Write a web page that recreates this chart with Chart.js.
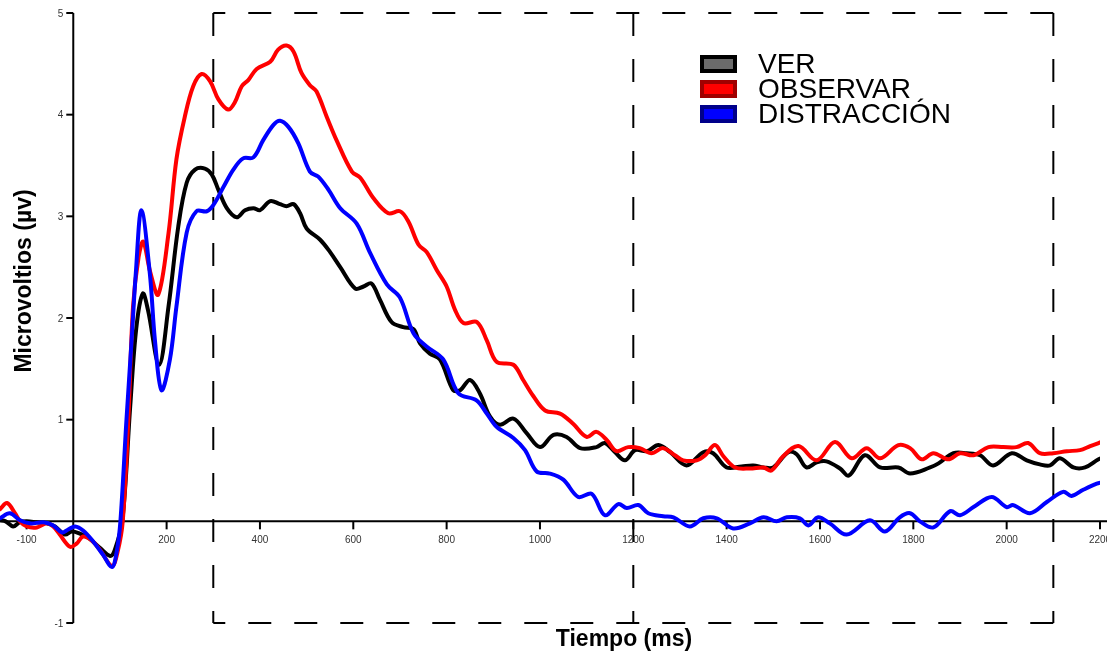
<!DOCTYPE html>
<html lang="es">
<head>
<meta charset="utf-8">
<title>Microvoltios</title>
<script src="https://cdn.jsdelivr.net/npm/chart.js@4/dist/chart.umd.min.js"></script>
<style>
  html, body { margin: 0; padding: 0; background: #fff; }
  #wrap { position: relative; width: 1107px; height: 654px; }
</style>
</head>
<body>
<div id="wrap"><canvas id="myChart"></canvas></div>
<script>
// tiempos (ms) y microvoltios
const tiempoVer = [-157, -145, -129, -115, -100, -78, -57, -39, -18, -3, 14, 32, 57, 79, 89, 105, 122, 135, 149, 160, 184, 204, 225, 243, 261, 282, 297, 311, 329, 350, 368, 386, 400, 422, 443, 457, 472, 486, 500, 529, 550, 572, 604, 622, 639, 657, 682, 707, 729, 743, 764, 786, 814, 829, 850, 871, 893, 914, 943, 971, 1000, 1029, 1057, 1086, 1121, 1139, 1161, 1182, 1204, 1229, 1254, 1279, 1314, 1350, 1371, 1400, 1432, 1457, 1479, 1500, 1532, 1550, 1571, 1593, 1614, 1643, 1662, 1696, 1729, 1768, 1793, 1836, 1854, 1886, 1914, 1943, 1971, 2011, 2043, 2071, 2093, 2114, 2143, 2168, 2197, 2210];
const ver = [0.01, 0.0, -0.05, -0.01, 0.0, -0.01, -0.02, -0.05, -0.13, -0.1, -0.12, -0.16, -0.26, -0.34, -0.28, 0.0, 1.13, 1.9, 2.24, 2.08, 1.54, 2.11, 2.9, 3.33, 3.46, 3.47, 3.41, 3.26, 3.08, 2.99, 3.06, 3.08, 3.06, 3.15, 3.12, 3.1, 3.12, 3.03, 2.88, 2.77, 2.65, 2.5, 2.29, 2.31, 2.34, 2.18, 1.96, 1.91, 1.89, 1.75, 1.65, 1.59, 1.29, 1.29, 1.39, 1.26, 1.03, 0.95, 1.01, 0.87, 0.73, 0.85, 0.83, 0.72, 0.73, 0.77, 0.68, 0.6, 0.7, 0.69, 0.75, 0.68, 0.55, 0.68, 0.67, 0.53, 0.54, 0.55, 0.53, 0.53, 0.68, 0.66, 0.53, 0.58, 0.59, 0.52, 0.45, 0.65, 0.53, 0.53, 0.47, 0.53, 0.57, 0.67, 0.67, 0.65, 0.55, 0.67, 0.6, 0.56, 0.55, 0.62, 0.53, 0.53, 0.61, 0.63];

const tiempoObs = [-157, -142, -125, -114, -100, -78, -57, -43, -29, -7, 7, 21, 40, 57, 83, 95, 106, 118, 128, 140, 150, 165, 182, 204, 221, 239, 257, 275, 293, 311, 332, 346, 361, 375, 393, 422, 439, 457, 472, 489, 507, 521, 543, 564, 597, 615, 643, 675, 700, 718, 740, 757, 779, 800, 818, 836, 865, 886, 907, 943, 964, 986, 1011, 1043, 1071, 1100, 1121, 1143, 1164, 1189, 1214, 1239, 1264, 1289, 1307, 1336, 1354, 1375, 1393, 1418, 1450, 1479, 1496, 1521, 1554, 1593, 1632, 1668, 1700, 1729, 1768, 1793, 1818, 1843, 1875, 1900, 1929, 1961, 1993, 2021, 2046, 2071, 2100, 2129, 2157, 2179, 2197, 2210];
const observar = [0.12, 0.18, 0.08, 0.0, -0.05, -0.06, -0.02, -0.05, -0.13, -0.25, -0.22, -0.15, -0.19, -0.28, -0.44, -0.3, 0.0, 1.0, 2.11, 2.6, 2.75, 2.45, 2.23, 2.83, 3.56, 3.98, 4.28, 4.4, 4.33, 4.15, 4.05, 4.12, 4.28, 4.34, 4.45, 4.52, 4.64, 4.68, 4.62, 4.41, 4.29, 4.23, 3.98, 3.75, 3.44, 3.38, 3.18, 3.03, 3.05, 2.95, 2.72, 2.65, 2.47, 2.31, 2.08, 1.95, 1.96, 1.78, 1.57, 1.54, 1.39, 1.23, 1.09, 1.06, 0.96, 0.83, 0.88, 0.8, 0.69, 0.73, 0.72, 0.67, 0.72, 0.65, 0.6, 0.6, 0.65, 0.75, 0.64, 0.53, 0.52, 0.53, 0.5, 0.64, 0.74, 0.6, 0.78, 0.62, 0.72, 0.62, 0.75, 0.72, 0.61, 0.67, 0.61, 0.67, 0.65, 0.73, 0.73, 0.73, 0.77, 0.67, 0.67, 0.69, 0.7, 0.74, 0.77, 0.8];

const tiempoDis = [-157, -136, -114, -93, -64, -43, -24, -11, 4, 21, 43, 64, 83, 93, 101, 114, 125, 134, 146, 164, 175, 189, 207, 221, 243, 264, 286, 300, 322, 343, 364, 386, 407, 429, 443, 461, 482, 507, 525, 547, 572, 607, 636, 672, 700, 729, 757, 793, 825, 864, 886, 907, 943, 968, 993, 1021, 1050, 1082, 1111, 1139, 1168, 1186, 1211, 1232, 1264, 1286, 1321, 1350, 1379, 1414, 1450, 1479, 1507, 1529, 1557, 1575, 1596, 1621, 1657, 1707, 1739, 1771, 1793, 1814, 1843, 1879, 1900, 1929, 1968, 2000, 2014, 2050, 2086, 2121, 2139, 2164, 2193, 2210];
const distraccion = [0.03, 0.08, 0.01, -0.02, -0.01, -0.04, -0.11, -0.08, -0.05, -0.09, -0.2, -0.33, -0.45, -0.3, 0.0, 1.0, 1.78, 2.44, 3.06, 2.44, 1.78, 1.29, 1.59, 2.11, 2.84, 3.05, 3.05, 3.11, 3.29, 3.46, 3.57, 3.58, 3.75, 3.9, 3.94, 3.88, 3.72, 3.44, 3.39, 3.26, 3.08, 2.93, 2.64, 2.33, 2.2, 1.85, 1.72, 1.59, 1.26, 1.19, 1.06, 0.93, 0.82, 0.7, 0.49, 0.47, 0.41, 0.24, 0.27, 0.06, 0.17, 0.13, 0.16, 0.08, 0.05, 0.04, -0.05, 0.03, 0.03, -0.07, -0.02, 0.04, 0.0, 0.04, 0.03, -0.04, 0.04, -0.02, -0.13, 0.01, -0.1, 0.04, 0.08, 0.0, -0.06, 0.1, 0.06, 0.14, 0.24, 0.14, 0.16, 0.08, 0.19, 0.29, 0.25, 0.31, 0.37, 0.39];

const etiquetas = ["VER", "OBSERVAR", "DISTRACCIÓN"];
const ticksX = [-100, 200, 400, 600, 800, 1000, 1200, 1400, 1600, 1800, 2000, 2200];
const ticksY = [-1, 1, 2, 3, 4, 5];
const ventanas = [300, 1200, 2100]; // ms de las lineas discontinuas

const puntos = (xs, ys) => xs.map((x, i) => ({ x: x, y: ys[i] }));

const leyenda = [
  { borde: "#000000", relleno: "#6b6b6b" },
  { borde: "#a00000", relleno: "#ff0000" },
  { borde: "#00008a", relleno: "#0000ff" },
];

function tramo(ctx, x1, y1, x2, y2) {
  ctx.beginPath();
  ctx.moveTo(x1, y1);
  ctx.lineTo(x2, y2);
  ctx.stroke();
}

// ejes, ventana discontinua, titulos y leyenda
const ejesPlugin = {
  id: "ejes",
  beforeDatasetsDraw(chart) {
    const { ctx, scales } = chart;
    const sx = scales.x, sy = scales.y;
    const x0 = sx.getPixelForValue(0);
    const y0 = sy.getPixelForValue(0);
    ctx.save();

    // ventana discontinua (cada lado empieza en su esquina)
    ctx.strokeStyle = "#000";
    ctx.lineWidth = 2;
    ctx.setLineDash([23, 23]);
    ctx.lineDashOffset = 11;
    const xa = sx.getPixelForValue(ventanas[0]);
    const xb = sx.getPixelForValue(ventanas[1]);
    const xc = sx.getPixelForValue(ventanas[2]);
    const yt = sy.getPixelForValue(5);
    const yb = sy.getPixelForValue(-1);
    tramo(ctx, xa, yt, xc, yt);
    tramo(ctx, xa, yb, xc, yb);
    ctx.lineDashOffset = 0;
    tramo(ctx, xa, yt, xa, yb);
    tramo(ctx, xb, yt, xb, yb);
    tramo(ctx, xc, yt, xc, yb);
    ctx.setLineDash([]);

    // eje x
    ctx.lineWidth = 2;
    tramo(ctx, 0, y0, chart.width, y0);
    ctx.font = "10px 'Liberation Sans', Arial, sans-serif";
    ctx.fillStyle = "#333";
    ctx.textAlign = "center";
    ctx.textBaseline = "middle";
    ticksX.forEach((t) => {
      const px = sx.getPixelForValue(t);
      tramo(ctx, px, y0, px, y0 + 8);
      ctx.fillText(String(t), px, y0 + 19);
    });

    // eje y
    tramo(ctx, x0, yt, x0, yb);
    ctx.textAlign = "right";
    ticksY.forEach((t) => {
      const py = sy.getPixelForValue(t);
      tramo(ctx, x0 - 7, py, x0, py);
      ctx.fillText(String(t), x0 - 10, py + 1);
    });
    ctx.restore();
  },
  afterDraw(chart) {
    const { ctx } = chart;
    ctx.save();
    ctx.fillStyle = "#000";
    ctx.font = "bold 23px 'Liberation Sans', Arial, sans-serif";
    ctx.textAlign = "center";
    ctx.textBaseline = "middle";
    ctx.fillText("Tiempo (ms)", 624, 640);
    ctx.translate(25, 281);
    ctx.rotate(-Math.PI / 2);
    ctx.fillText("Microvoltios (µv)", 0, 0);
    ctx.restore();

    ctx.save();
    ctx.font = "28px 'Liberation Sans', Arial, sans-serif";
    ctx.textBaseline = "alphabetic";
    ctx.textAlign = "left";
    chart.data.datasets.forEach((ds, i) => {
      const base = 73 + i * 25;
      const st = leyenda[i];
      ctx.fillStyle = st.borde;
      ctx.fillRect(700, base - 18, 37, 18);
      ctx.fillStyle = st.relleno;
      ctx.fillRect(704, base - 14, 29, 10);
      ctx.fillStyle = "#000";
      ctx.fillText(ds.label, 758, base);
    });
    ctx.restore();
  },
};

const ctx = document.getElementById("myChart").getContext("2d");

new Chart(ctx, {
  type: "line",
  data: {
    datasets: [
      { label: etiquetas[0], data: puntos(tiempoVer, ver), borderColor: "#000000", order: 2 },
      { label: etiquetas[1], data: puntos(tiempoObs, observar), borderColor: "#ff0000", order: 1 },
      { label: etiquetas[2], data: puntos(tiempoDis, distraccion), borderColor: "#0000ff", order: 0 },
    ],
  },
  options: {
    responsive: true,
    maintainAspectRatio: false,
    animation: false,
    layout: { padding: { left: 0, right: 7, top: 13, bottom: 31 } },
    elements: {
      point: { radius: 0 },
      line: { borderWidth: 4, tension: 0.35, borderCapStyle: "round", borderJoinStyle: "round" },
    },
    scales: {
      x: { type: "linear", min: -157, max: 2200, display: false },
      y: { min: -1, max: 5, display: false },
    },
    plugins: {
      legend: { display: false },
      tooltip: { enabled: false },
    },
  },
  plugins: [ejesPlugin],
});
</script>
</body>
</html>
